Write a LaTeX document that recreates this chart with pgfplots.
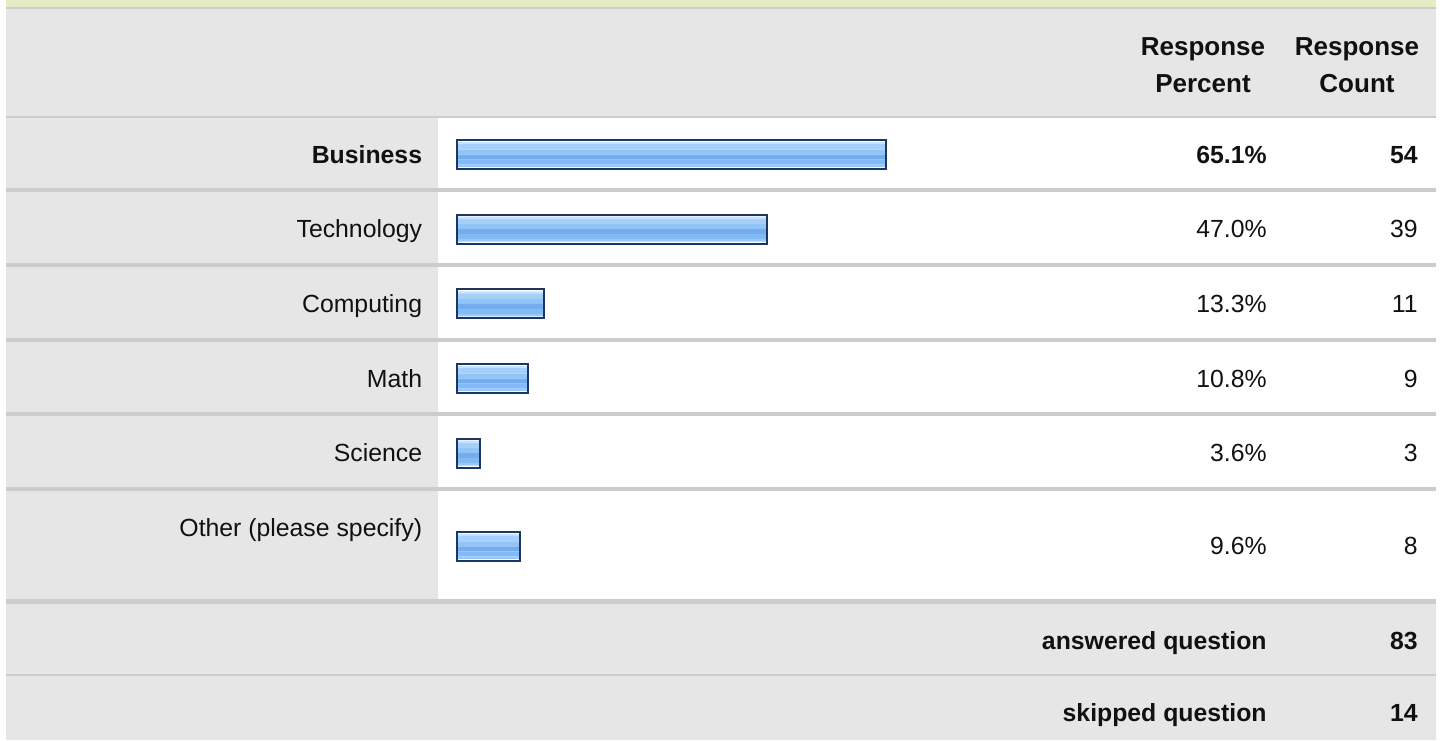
\documentclass[border=0pt]{standalone}
\usepackage{pgfplots}
\pgfplotsset{compat=1.18}
\usepackage{pgfplotstable}
\usepackage{fontspec}
\setmainfont{Liberation Sans}
\definecolor{topband}{HTML}{E5EBC2}
\definecolor{bg}{HTML}{E6E6E6}
\definecolor{sep}{HTML}{CCCCCC}
\definecolor{barborder}{HTML}{1C365E}
\definecolor{txt}{HTML}{111111}
\definecolor{sA}{HTML}{C8E2FE}
\definecolor{sB}{HTML}{A6D0FC}
\definecolor{sC}{HTML}{92C4F8}
\definecolor{sD}{HTML}{74ADEF}
\definecolor{sE}{HTML}{81BAF4}
\definecolor{sF}{HTML}{96C8FA}
\pgfplotstableread{
pos pct count
154.5 65.1 54
229.0 47.0 39
303.8 13.3 11
378.5 10.8 9
453.0 3.6 3
546.3 9.6 8
}\datatable
\newcommand{\bodyfont}{\fontsize{12.4}{14}\selectfont}
\newcommand{\headfont}{\bfseries\fontsize{13}{15}\selectfont}
\begin{document}
\begin{tikzpicture}[x=0.5pt,y=-0.5pt]
\useasboundingbox (0,0) rectangle (1442,740);
\fill[white] (0,0) rectangle (1442,740);
\fill[topband] (6,0) rectangle (1436,7);
\fill[sep] (6,7) rectangle (1436,9);
\fill[bg] (6,9) rectangle (1436,116);
\fill[sep] (6,116) rectangle (1436,118);
\fill[bg] (6,118) rectangle (438,599);
\foreach \a in {188,263,338,412,487} {\fill[sep] (6,\a) rectangle (1436,\a+4);}
\fill[bg] (6,604) rectangle (1436,740);
\fill[sep] (6,599) rectangle (1436,604);
\fill[sep] (6,674) rectangle (1436,676);
\begin{axis}[at={(228.3pt,0pt)}, anchor=north west, scale only axis,
  width=330pt, height=370pt, xmin=0, xmax=100, ymin=0, ymax=740, y dir=reverse,
  xbar, axis line style={draw=none}, tick style={draw=none},
  xtick=\empty, ytick={154.5,229.0,303.8,378.5,453.0,546.3},
  yticklabels={\textbf{Business},Technology,Computing,Math,Science,\raisebox{9pt}{Other (please specify)}},
  yticklabel style={font=\bodyfont, text=txt, inner sep=0pt, anchor=base east, xshift=-12.8pt, yshift=-4.3pt},
  clip=false]
% stripes of the glossy bars, top to bottom
\addplot[xbar, draw=none, fill=sA, bar width=1pt,    bar shift=5.75pt]  table[x=pct,y=pos]{\datatable};
\addplot[xbar, draw=none, fill=sB, bar width=2.75pt, bar shift=3.875pt] table[x=pct,y=pos]{\datatable};
\addplot[xbar, draw=none, fill=sC, bar width=2.5pt,  bar shift=1.25pt]  table[x=pct,y=pos]{\datatable};
\addplot[xbar, draw=none, fill=sD, bar width=2.5pt,  bar shift=-1.25pt] table[x=pct,y=pos]{\datatable};
\addplot[xbar, draw=none, fill=sE, bar width=2.5pt,  bar shift=-3.75pt] table[x=pct,y=pos]{\datatable};
\addplot[xbar, draw=none, fill=sF, bar width=1.25pt, bar shift=-5.625pt] table[x=pct,y=pos]{\datatable};
% border
\addplot[xbar, draw=barborder, fill=none, line width=1pt, bar width=14.5pt, bar shift=0pt] table[x=pct,y=pos]{\datatable};
\end{axis}
\begin{scope}[every node/.style={inner sep=0pt, text=txt, anchor=base east}]
\node[font=\headfont, anchor=base] at (1203,55) {Response};
\node[font=\headfont, anchor=base] at (1203,92) {Percent};
\node[font=\headfont, anchor=base] at (1357,55) {Response};
\node[font=\headfont, anchor=base] at (1357,92) {Count};
\node[font=\bodyfont\bfseries] at (1267,163.1) {65.1\%};
\node[font=\bodyfont\bfseries] at (1418,163.1) {54};
\node[font=\bodyfont] at (1267,237.6) {47.0\%};
\node[font=\bodyfont] at (1418,237.6) {39};
\node[font=\bodyfont] at (1267,312.4) {13.3\%};
\node[font=\bodyfont] at (1418,312.4) {11};
\node[font=\bodyfont] at (1267,387.1) {10.8\%};
\node[font=\bodyfont] at (1418,387.1) {9};
\node[font=\bodyfont] at (1267,461.6) {3.6\%};
\node[font=\bodyfont] at (1418,461.6) {3};
\node[font=\bodyfont] at (1267,554.9) {9.6\%};
\node[font=\bodyfont] at (1418,554.9) {8};
\node[font=\bodyfont\bfseries] at (1267,649.6) {answered question};
\node[font=\bodyfont\bfseries] at (1418,649.6) {83};
\node[font=\bodyfont\bfseries] at (1267,721.6) {skipped question};
\node[font=\bodyfont\bfseries] at (1418,721.6) {14};
\end{scope}
\end{tikzpicture}
\end{document}
